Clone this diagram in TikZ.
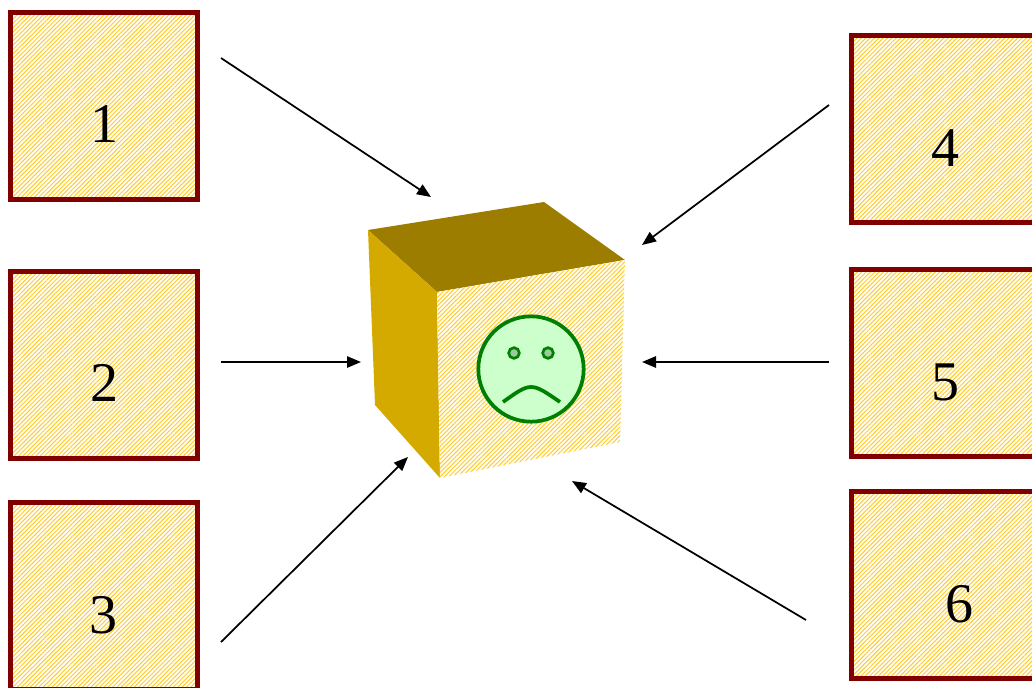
\documentclass[tikz,border=0pt]{standalone}
\usepackage{fontspec}
\setmainfont{Liberation Serif}
\usetikzlibrary{patterns.meta,arrows.meta}
\definecolor{boxborder}{HTML}{800000}
\definecolor{hatch}{RGB}{255,204,40}
\definecolor{cubetop}{HTML}{9C7D00}
\definecolor{cubeleft}{HTML}{D4AA00}
\definecolor{facegreen}{HTML}{008000}
\definecolor{facefill}{HTML}{CCFFCC}
\definecolor{eyefill}{HTML}{9FC89F}
\tikzset{
  hatched/.style={pattern={Lines[angle=45,distance=2.3pt,line width=0.75pt]},pattern color=hatch},
  numbox/.style={preaction={fill=white},hatched,draw=boxborder,line width=3.75pt,minimum width=140.25pt,minimum height=140.25pt,inner sep=0pt,outer sep=0pt,anchor=north west},
  numtext/.style={font=\fontsize{42}{42}\selectfont,inner sep=0pt},
  arr/.style={line width=1.3pt,-{Triangle[length=10.5pt,width=8.5pt]}},
}
\begin{document}
\begin{tikzpicture}[x=0.75pt,y=-0.75pt]
\useasboundingbox (0,0) rectangle (1032,687);
% boxes
\node[numbox] (b1) at (10.5,12) {};
\node[numbox] (b2) at (10.5,271.5) {};
\node[numbox] (b3) at (10.5,502.5) {};
\node[numbox] (b4) at (851.5,35.5) {};
\node[numbox] (b5) at (851.5,269.5) {};
\node[numbox] (b6) at (851.5,491.5) {};
\node[numtext] (t1) at (104,124) {1};
\node[numtext] (t2) at (104,383) {2};
\node[numtext] (t3) at (103,615) {3};
\node[numtext] (t4) at (945,148) {4};
\node[numtext] (t5) at (945,382) {5};
\node[numtext] (t6) at (959,604) {6};
% cube
\coordinate (ctl) at (368,230);
\coordinate (cbk) at (544,202);
\coordinate (crt) at (625,260);
\coordinate (cft) at (437,292);
\coordinate (cfb) at (440,478);
\coordinate (crb) at (620,442);
\coordinate (clb) at (375,405);
\fill[cubetop] (ctl) -- (cbk) -- (crt) -- (cft) -- cycle;
\fill[cubeleft] (ctl) -- (cft) -- (cfb) -- (clb) -- cycle;
\fill[white] (cft) -- (crt) -- (crb) -- (cfb) -- cycle;
\fill[hatched] (cft) -- (crt) -- (crb) -- (cfb) -- cycle;
% face
\node[circle,draw=facegreen,fill=facefill,line width=2.8pt,minimum size=79pt,inner sep=0pt] (face) at (531,369) {};
\node[circle,draw=facegreen,fill=eyefill,line width=2pt,minimum size=8pt,inner sep=0pt] (eyeL) at (514,353) {};
\node[circle,draw=facegreen,fill=eyefill,line width=2pt,minimum size=8pt,inner sep=0pt] (eyeR) at (548,353) {};
\coordinate (m1) at (503,402);
\coordinate (m2) at (560,402);
\draw[facegreen,line width=2.8pt] (m1) .. controls (531,382) .. (m2);
% arrows
\coordinate (s1) at (221,58);  \coordinate (e1) at (431,197);
\coordinate (s2) at (221,362); \coordinate (e2) at (361,362);
\coordinate (s3) at (221,642); \coordinate (e3) at (408,457);
\coordinate (s4) at (829,105); \coordinate (e4) at (642,245);
\coordinate (s5) at (829,362); \coordinate (e5) at (642,362);
\coordinate (s6) at (806,620); \coordinate (e6) at (572,481);
\draw[arr] (s1) -- (e1);
\draw[arr] (s2) -- (e2);
\draw[arr] (s3) -- (e3);
\draw[arr] (s4) -- (e4);
\draw[arr] (s5) -- (e5);
\draw[arr] (s6) -- (e6);
\end{tikzpicture}
\end{document}
